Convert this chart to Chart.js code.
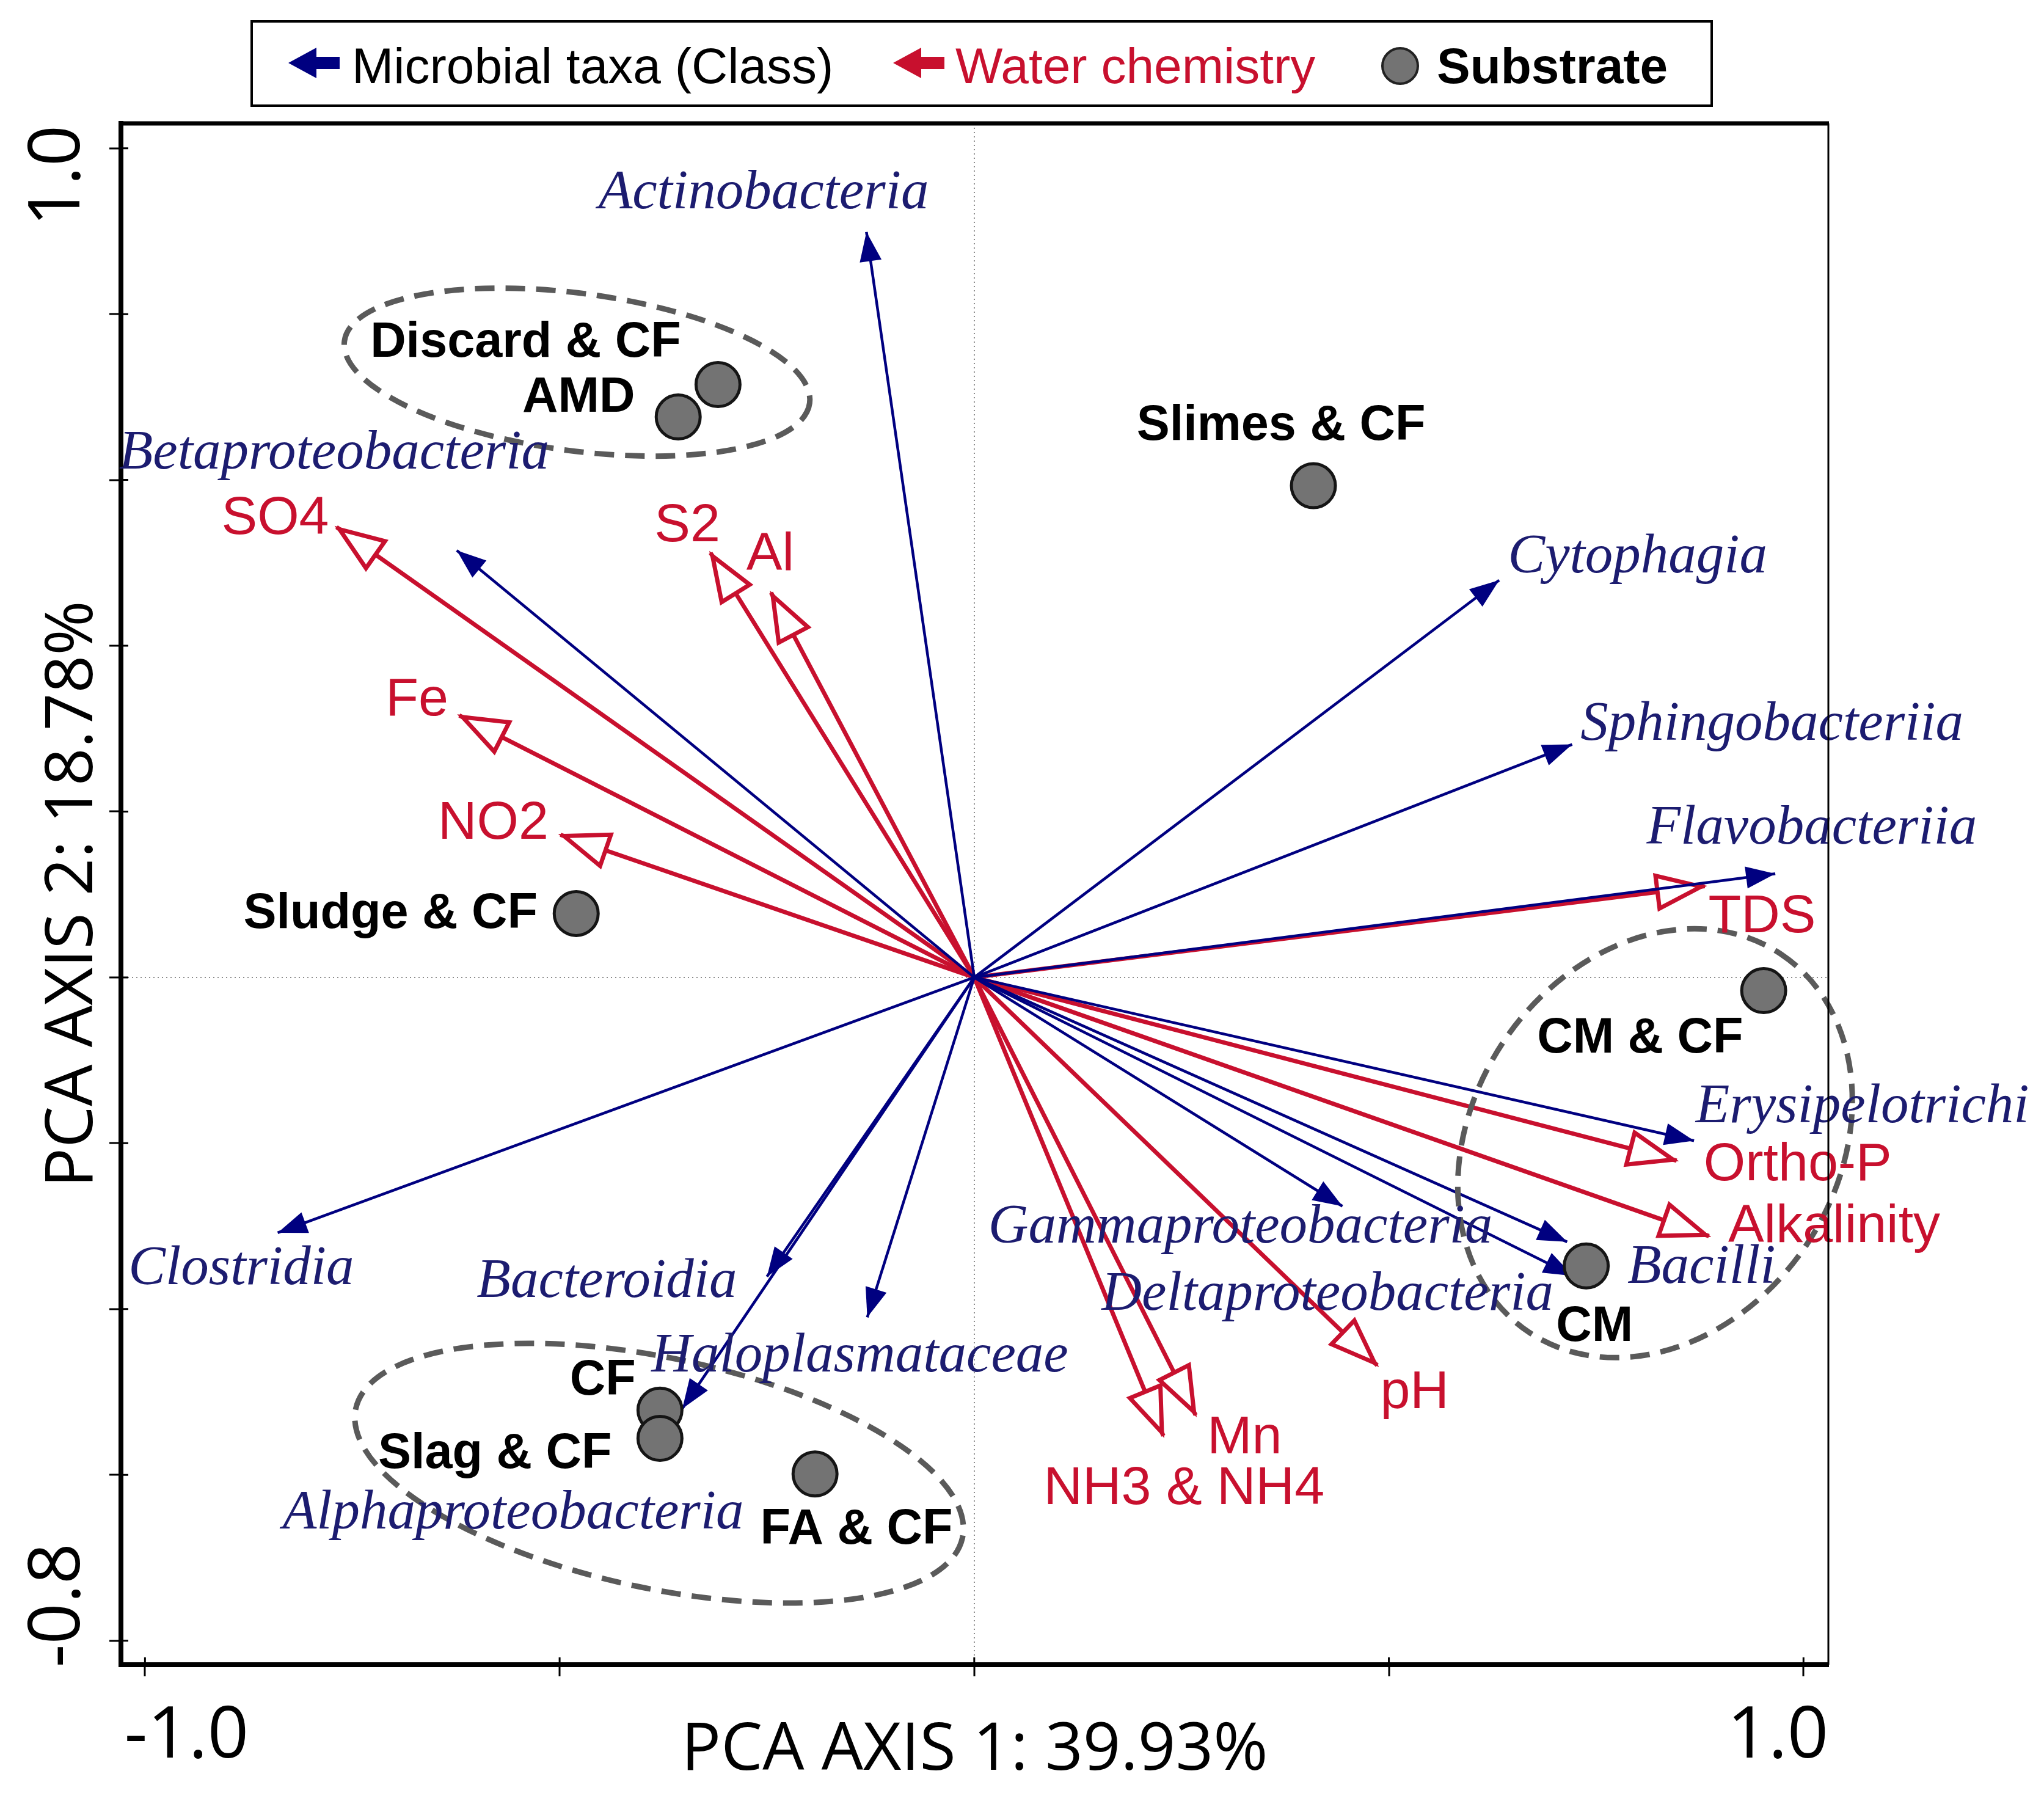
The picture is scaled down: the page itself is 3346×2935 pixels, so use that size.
<!DOCTYPE html>
<html lang="en">
<head>
<meta charset="UTF-8">
<title>PCA biplot</title>
<style>
  html, body { margin: 0; padding: 0; background: #ffffff; }
  canvas { display: block; }
</style>
</head>
<body>
<canvas id="pca" width="3346" height="2935"></canvas>
<script src="https://cdn.jsdelivr.net/npm/chart.js"></script>
<script>
// microbial taxa (class) - blue arrows, tip coordinates
const taxaNames = ['Actinobacteria', 'Betaproteobacteria', 'Cytophagia', 'Sphingobacteriia', 'Flavobacteriia',
  'Erysipelotrichi', 'Gammaproteobacteria', 'Deltaproteobacteria', 'Bacilli', 'Clostridia',
  'Bacteroidia', 'Haloplasmataceae', 'Alphaproteobacteria'];
const taxaX = [-0.130, -0.624, 0.633, 0.721, 0.966, 0.868, 0.444, 0.715, 0.722, -0.840, -0.250, -0.129, -0.352];
const taxaY = [0.899, 0.515, 0.479, 0.281, 0.125, -0.197, -0.276, -0.319, -0.360, -0.308, -0.361, -0.410, -0.520];

// water chemistry - red arrows
const chemNames = ['SO4', 'S2', 'Al', 'Fe', 'NO2', 'TDS', 'Ortho-P', 'Alkalinity', 'pH', 'Mn', 'NH3 & NH4'];
const chemX = [-0.769, -0.318, -0.245, -0.621, -0.499, 0.881, 0.847, 0.886, 0.486, 0.267, 0.228];
const chemY = [0.543, 0.512, 0.464, 0.316, 0.172, 0.110, -0.221, -0.312, -0.468, -0.528, -0.553];

// substrates - grey points
const substrateNames = ['Discard & CF', 'AMD', 'Slimes & CF', 'Sludge & CF', 'CM & CF', 'CM', 'CF', 'Slag & CF', 'FA & CF'];
const substrateX = [-0.309, -0.357, 0.409, -0.480, 0.952, 0.738, -0.379, -0.379, -0.192];
const substrateY = [0.715, 0.676, 0.593, 0.077, -0.016, -0.348, -0.522, -0.556, -0.599];

// axes
const xTicks = [-1.0, -0.5, 0, 0.5, 1.0];
const yTicks = [-0.8, -0.6, -0.4, -0.2, 0, 0.2, 0.4, 0.6, 0.8, 1.0];
const xTickLabels = ['-1.0', '', '', '', '1.0'];
const yTickLabels = ['-0.8', '', '', '', '', '', '', '', '', '1.0'];
const xTitle = 'PCA AXIS 1: 39.93%';
const yTitle = 'PCA AXIS 2: 18.78%';

// dashed substrate groups: centre, semi axes, tilt in degrees
const groupCx = [-0.479, -0.380, 0.821];
const groupCy = [0.730, -0.598, -0.200];
const groupA = [0.283, 0.374, 0.274];
const groupB = [0.095, 0.139, 0.220];
const groupTilt = [-7.6, -12, 56.3];

// where each name is written (centre of the text, axis units)
const labelAt = {
  'Actinobacteria': [-0.254, 0.945], 'Betaproteobacteria': [-0.772, 0.631], 'Cytophagia': [0.800, 0.506],
  'Sphingobacteriia': [0.962, 0.304], 'Flavobacteriia': [1.010, 0.179], 'Erysipelotrichi': [1.071, -0.157],
  'Gammaproteobacteria': [0.321, -0.302], 'Deltaproteobacteria': [0.426, -0.383], 'Bacilli': [0.877, -0.351],
  'Clostridia': [-0.884, -0.352], 'Bacteroidia': [-0.443, -0.368], 'Haloplasmataceae': [-0.138, -0.458],
  'Alphaproteobacteria': [-0.556, -0.647],
  'SO4': [-0.843, 0.553], 'S2': [-0.346, 0.544], 'Al': [-0.246, 0.509], 'Fe': [-0.672, 0.334],
  'NO2': [-0.580, 0.185], 'TDS': [0.950, 0.072], 'Ortho-P': [0.993, -0.227], 'Alkalinity': [1.037, -0.301],
  'pH': [0.531, -0.502], 'Mn': [0.326, -0.556], 'NH3 & NH4': [0.253, -0.617],
  'Discard & CF': [-0.541, 0.765], 'AMD': [-0.477, 0.699], 'Slimes & CF': [0.370, 0.665],
  'Sludge & CF': [-0.704, 0.076], 'CM & CF': [0.803, -0.074], 'CM': [0.748, -0.422],
  'CF': [-0.448, -0.487], 'Slag & CF': [-0.578, -0.575], 'FA & CF': [-0.142, -0.667]
};

const NAVY = '#000080';
const RED = '#c8102e';
const GREY = '#737373';
const TAXA_TEXT = '#1c1c70';

const chemSets = chemNames.map((n, i) => ({
  label: n,
  data: [{x: 0, y: 0}, {x: chemX[i], y: chemY[i]}],
  showLine: true,
  borderColor: RED,
  borderWidth: 7,
  pointRadius: 0,
  pointHoverRadius: 0,
  arrow: 'open',
  order: 2
}));

const taxaSets = taxaNames.map((n, i) => ({
  label: n,
  data: [{x: 0, y: 0}, {x: taxaX[i], y: taxaY[i]}],
  showLine: true,
  borderColor: NAVY,
  borderWidth: 4.5,
  pointRadius: 0,
  pointHoverRadius: 0,
  arrow: 'solid',
  order: 1
}));

const substrateSet = {
  label: 'Substrate',
  data: substrateX.map((x, i) => ({x: x, y: substrateY[i]})),
  backgroundColor: GREY,
  borderColor: '#151515',
  borderWidth: 5,
  pointRadius: 36,
  pointHoverRadius: 36,
  order: 0
};

// arrow heads at the end of each loading line
const arrowHeads = {
  id: 'arrowHeads',
  afterDatasetDraw(chart, args) {
    const ds = chart.data.datasets[args.index];
    if (!ds.arrow) return;
    const a = args.meta.data[0], b = args.meta.data[1];
    const ang = Math.atan2(b.y - a.y, b.x - a.x);
    const c = chart.ctx;
    c.save();
    c.translate(b.x, b.y);
    c.rotate(ang);
    c.beginPath();
    if (ds.arrow === 'solid') {
      c.moveTo(0, 0);
      c.lineTo(-48, -18);
      c.lineTo(-48, 18);
      c.closePath();
      c.fillStyle = ds.borderColor;
      c.fill();
    } else {
      c.moveTo(-6, 0);
      c.lineTo(-78, -27);
      c.lineTo(-78, 27);
      c.closePath();
      c.fillStyle = '#ffffff';
      c.fill();
      c.lineWidth = 7;
      c.lineJoin = 'miter';
      c.strokeStyle = ds.borderColor;
      c.stroke();
    }
    c.restore();
  }
};

function drawLegend(c) {
  c.save();
  c.lineWidth = 4;
  c.strokeStyle = '#000';
  c.strokeRect(412, 35, 2390, 138);

  function arrowIcon(x, color) {
    c.beginPath();
    c.moveTo(x, 103);
    c.lineTo(x + 46, 78);
    c.lineTo(x + 46, 93);
    c.lineTo(x + 84, 93);
    c.lineTo(x + 84, 113);
    c.lineTo(x + 46, 113);
    c.lineTo(x + 46, 128);
    c.closePath();
    c.fillStyle = color;
    c.fill();
  }
  arrowIcon(472, NAVY);
  arrowIcon(1462, RED);

  c.beginPath();
  c.arc(2292, 108, 29, 0, Math.PI * 2);
  c.fillStyle = GREY;
  c.fill();
  c.lineWidth = 4;
  c.strokeStyle = '#222';
  c.stroke();

  c.textBaseline = 'alphabetic';
  c.textAlign = 'left';
  c.font = '82px "Liberation Sans"';
  c.fillStyle = '#000';
  c.fillText('Microbial taxa (Class)', 576, 136);
  c.fillStyle = RED;
  c.fillText('Water chemistry', 1564, 136);
  c.font = 'bold 82px "Liberation Sans"';
  c.fillStyle = '#000';
  c.fillText('Substrate', 2352, 136);
  c.restore();
}

const decorations = {
  id: 'decorations',
  afterDatasetsDraw(chart) {
    const c = chart.ctx;
    const xs = chart.scales.x, ys = chart.scales.y;
    const area = chart.chartArea;
    const unitX = xs.getPixelForValue(1) - xs.getPixelForValue(0);
    const unitY = ys.getPixelForValue(0) - ys.getPixelForValue(1);

    // dashed group outlines
    c.save();
    c.strokeStyle = '#5a5a5a';
    c.lineWidth = 9;
    c.setLineDash([32, 18]);
    groupCx.forEach((cx, i) => {
      c.beginPath();
      c.ellipse(xs.getPixelForValue(cx), ys.getPixelForValue(groupCy[i]),
        groupA[i] * unitX, groupB[i] * unitY, -groupTilt[i] * Math.PI / 180, 0, Math.PI * 2);
      c.stroke();
    });
    c.restore();

    // names
    c.save();
    c.textAlign = 'center';
    c.textBaseline = 'middle';
    const write = (name, font, color) => {
      const p = labelAt[name];
      c.font = font;
      c.fillStyle = color;
      c.fillText(name, xs.getPixelForValue(p[0]), ys.getPixelForValue(p[1]));
    };
    taxaNames.forEach(n => write(n, 'italic 91px "Liberation Serif"', TAXA_TEXT));
    chemNames.forEach(n => write(n, '88px "Liberation Sans"', RED));
    substrateNames.forEach(n => write(n, 'bold 81px "Liberation Sans"', '#000'));
    c.restore();

    // frame top and right, inner part of the tick marks
    c.save();
    c.strokeStyle = '#000';
    c.lineWidth = 7;
    c.beginPath();
    c.moveTo(area.left - 4, area.top);
    c.lineTo(area.right + 1, area.top);
    c.stroke();
    c.lineWidth = 3;
    c.beginPath();
    c.moveTo(area.right, area.top);
    c.lineTo(area.right, area.bottom);
    c.stroke();
    c.beginPath();
    xTicks.forEach(v => {
      const p = xs.getPixelForValue(v);
      c.moveTo(p, area.bottom);
      c.lineTo(p, area.bottom - 12);
    });
    yTicks.forEach(v => {
      const p = ys.getPixelForValue(v);
      c.moveTo(area.left, p);
      c.lineTo(area.left + 12, p);
    });
    c.stroke();
    c.restore();

    // tick labels, pulled inwards as in the figure
    c.save();
    c.font = '118px "Open Sans"';
    c.fillStyle = '#000';
    c.textAlign = 'center';
    c.textBaseline = 'middle';
    xTicks.forEach((v, i) => {
      if (!xTickLabels[i]) return;
      const shift = i === 0 ? 68 : -42;
      c.fillText(xTickLabels[i], xs.getPixelForValue(v) + shift, 2843);
    });
    yTicks.forEach((v, i) => {
      if (!yTickLabels[i]) return;
      const shift = i === 0 ? -58 : 45;
      c.save();
      c.translate(96, ys.getPixelForValue(v) + shift);
      c.rotate(-Math.PI / 2);
      c.fillText(yTickLabels[i], 0, 0);
      c.restore();
    });
    c.restore();

    drawLegend(c);
  }
};

const zeroLine = ctx => (ctx.tick && ctx.tick.value === 0) ? '#8c8c8c' : 'rgba(0,0,0,0)';

new Chart(document.getElementById('pca'), {
  type: 'scatter',
  data: { datasets: [substrateSet].concat(taxaSets, chemSets) },
  options: {
    responsive: false,
    animation: false,
    devicePixelRatio: 1,
    events: [],
    layout: { padding: { top: 202, right: 353, left: 0, bottom: 0 } },
    plugins: { legend: { display: false }, tooltip: { enabled: false } },
    scales: {
      x: {
        type: 'linear',
        min: -1.029,
        max: 1.030,
        afterBuildTicks: s => { s.ticks = xTicks.map(v => ({ value: v })); },
        afterFit: s => { s.height = 210; },
        ticks: { callback: () => '' },
        grid: { color: zeroLine, lineWidth: 2, drawTicks: true, tickLength: 19, tickWidth: 3, tickColor: '#000' },
        border: { display: true, color: '#000', width: 8, dash: [2, 5] },
        title: { display: true, text: xTitle, color: '#000', font: { family: 'Open Sans', size: 108 }, padding: { top: 0, bottom: 4 } }
      },
      y: {
        type: 'linear',
        min: -0.829,
        max: 1.030,
        afterBuildTicks: s => { s.ticks = yTicks.map(v => ({ value: v })); },
        afterFit: s => { s.width = 198; },
        ticks: { callback: () => '' },
        grid: { color: zeroLine, lineWidth: 2, drawTicks: true, tickLength: 19, tickWidth: 3, tickColor: '#000' },
        border: { display: true, color: '#000', width: 8, dash: [2, 5] },
        title: { display: true, text: yTitle, color: '#000', font: { family: 'Open Sans', size: 108 }, padding: { top: 55, bottom: 0 } }
      }
    }
  },
  plugins: [arrowHeads, decorations]
});
</script>
</body>
</html>
